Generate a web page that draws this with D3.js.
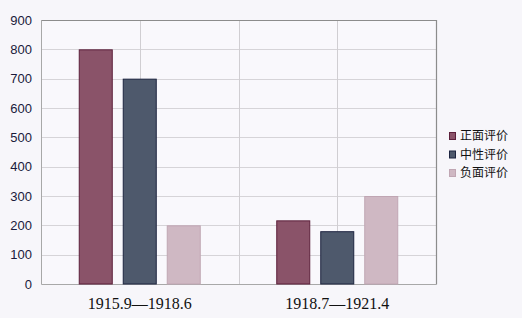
<!DOCTYPE html>
<html><head><meta charset="utf-8">
<script src="https://cdn.jsdelivr.net/npm/d3@7"></script>
<style>body{margin:0;background:#f7f6fa;}svg{display:block;}</style>
</head><body>
<svg id="c" width="522" height="318"></svg>
<script>
const categories = ["1915.9\u20141918.6", "1918.7\u20141921.4"];
const seriesNames = ["正面评价", "中性评价", "负面评价"];
const positive = [800, 217];
const neutral = [700, 180];
const negative = [200, 300];
const yTicks = [0,100,200,300,400,500,600,700,800,900];

const series = [positive, neutral, negative];
const fills = ["#8a5369", "#4e596c", "#cfb8c3"];
const strokes = ["#5c1f3b", "#1d2440", "#c0a6b3"];

const svg = d3.select("#c");
const m = {l:41, t:20, r:436, b:284};
const x = d3.scaleBand().domain(categories).range([m.l, m.r]);
const y = d3.scaleLinear().domain([0,900]).range([m.b, m.t]);
const xs = d3.scaleBand().domain(d3.range(3)).range([-61, 61]).paddingInner(0.227);

svg.append("rect").attr("x",m.l).attr("y",m.t).attr("width",m.r-m.l).attr("height",m.b-m.t).attr("fill","#f9f8fc");

// horizontal grid
svg.append("g").selectAll("line").data(yTicks.slice(1)).join("line")
  .attr("x1",m.l).attr("x2",m.r).attr("y1",d=>Math.round(y(d))+0.5).attr("y2",d=>Math.round(y(d))+0.5)
  .attr("stroke","#d6d4d8");
// vertical grid
const vx = [x(categories[0])+x.bandwidth()/2, x(categories[1]), x(categories[1])+x.bandwidth()/2];
svg.append("g").selectAll("line").data(vx).join("line")
  .attr("x1",d=>Math.round(d)+0.5).attr("x2",d=>Math.round(d)+0.5).attr("y1",m.t).attr("y2",m.b)
  .attr("stroke","#d0ced2");

// frame
svg.append("path").attr("d",`M${m.l+0.5},${m.t+0.5}H${m.r+0.5}V${m.b+0.5}`).attr("fill","none").attr("stroke","#8c8c8c").attr("stroke-width",1.2);
svg.append("path").attr("d",`M${m.l+0.5},${m.t}V${m.b+0.5}H${m.r+0.5}`).attr("fill","none").attr("stroke","#a8a8a8");

// bars
series.forEach((s,i)=>{
  svg.append("g").selectAll("rect").data(s).join("rect")
    .attr("x",(d,j)=>x(categories[j])+x.bandwidth()/2+xs(i)+0.5)
    .attr("y",d=>y(d)+0.5)
    .attr("width",xs.bandwidth()-1)
    .attr("height",d=>y(0)-y(d)-0.5)
    .attr("fill",fills[i]).attr("stroke",strokes[i]).attr("stroke-width",1);
});

// y labels
svg.append("g").selectAll("text").data(yTicks).join("text")
  .attr("x",32).attr("y",d=>y(d)).attr("dy","0.36em").attr("text-anchor","end")
  .attr("font-family","'Liberation Sans', Arial, sans-serif").attr("font-size",13).attr("fill","#1a1a3a").text(d=>d);

// x labels
svg.append("g").selectAll("text").data(categories).join("text")
  .attr("x",d=>x(d)+x.bandwidth()/2).attr("y",303).attr("dy","0.35em").attr("text-anchor","middle")
  .attr("font-family","'Liberation Serif', 'Times New Roman', serif").attr("font-size",16).attr("fill","#111").text(d=>d);

// legend
const lg = svg.append("g").selectAll("g").data(seriesNames).join("g")
  .attr("transform",(d,i)=>`translate(449,${136+i*18.5})`);
lg.append("rect").attr("x",0.5).attr("y",-3.5).attr("width",6).attr("height",7)
  .attr("fill",(d,i)=>fills[i]).attr("stroke",(d,i)=>strokes[i]);
lg.append("text").attr("x",11).attr("dy","0.35em").attr("font-family","'Noto Sans CJK SC', sans-serif")
  .attr("font-size",12).attr("fill","#111").text(d=>d);
</script>
</body></html>
